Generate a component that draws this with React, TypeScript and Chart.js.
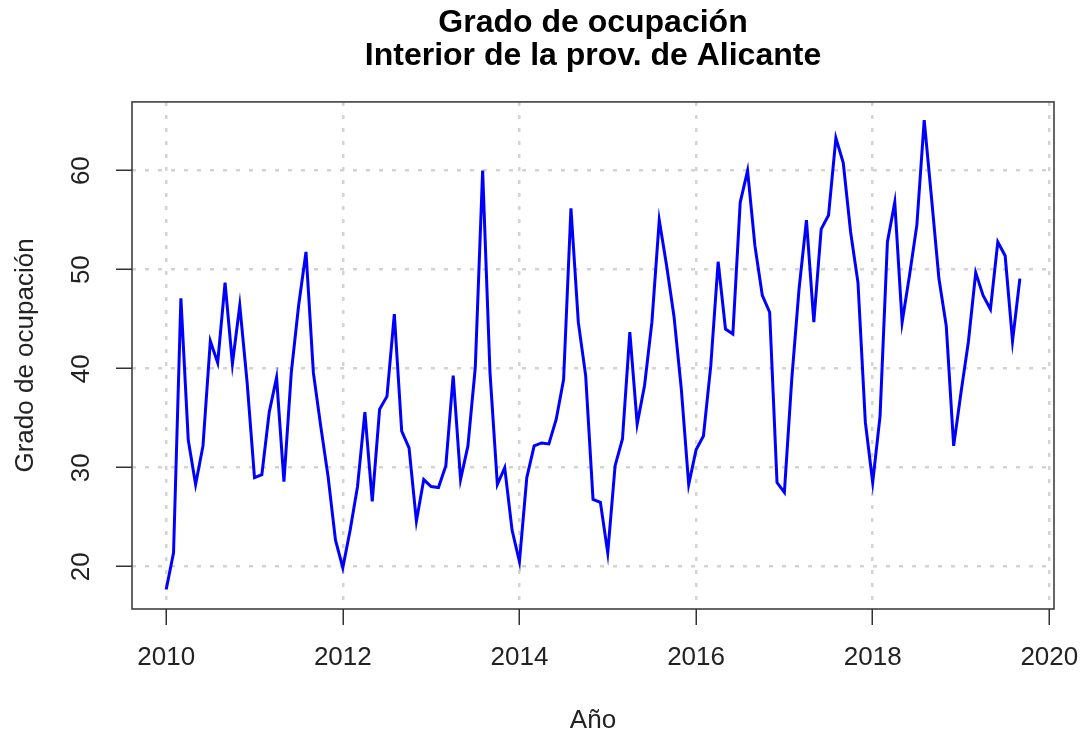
import React, { useEffect, useRef } from 'react';
import { Chart, registerables } from 'chart.js';

Chart.register(...registerables);

const startYear = 2010;
const monthlyValues = [
  17.7, 21.4, 47.1, 32.8, 28.3, 32.2, 42.8, 40.6, 48.7, 40.5, 46.4, 38.6,
  29.0, 29.3, 35.6, 39.1, 28.6, 39.6, 46.4, 51.8, 39.6, 34.2, 29.1, 22.7,
  19.9, 23.7, 28.1, 35.6, 26.6, 35.9, 37.2, 45.5, 33.7, 32.0, 24.6, 28.8,
  28.1, 28.0, 30.2, 39.3, 28.8, 32.2, 40.1, 60.0, 39.6, 28.3, 30.0, 23.7,
  20.5, 29.0, 32.2, 32.5, 32.4, 34.9, 38.9, 56.2, 44.7, 39.3, 26.8, 26.5,
  21.4, 30.2, 32.9, 43.7, 34.4, 38.3, 44.7, 55.0, 50.4, 45.3, 37.9, 28.3,
  31.8, 33.2, 40.3, 50.8, 44.0, 43.5, 56.8, 60.0, 52.4, 47.4, 45.7, 28.5,
  27.5, 38.9, 48.1, 55.0, 44.7, 54.1, 55.5, 63.3, 60.8, 53.8, 48.7, 34.6,
  28.5, 35.2, 52.8, 56.8, 44.7, 49.4, 54.5, 65.1, 57.2, 49.1, 44.3, 32.2,
  37.6, 42.7, 49.7, 47.4, 46.0, 52.8, 51.4, 42.8, 49.1,
];
const timeValues = monthlyValues.map((_, i) => startYear + i / 12);
const xTickValues = [2010, 2012, 2014, 2016, 2018, 2020];
const yTickValues = [20, 30, 40, 50, 60];
const titleLines = ['Grado de ocupación', 'Interior de la prov. de Alicante'];
const xLabel = 'Año';
const yLabel = 'Grado de ocupación';

const boxPlugin = {
  id: 'plotBox',
  afterDraw(chart: any) {
    const { ctx, chartArea: a } = chart;
    ctx.save();
    ctx.strokeStyle = '#333333';
    ctx.lineWidth = 1.5;
    ctx.strokeRect(a.left, a.top, a.right - a.left, a.bottom - a.top);
    ctx.restore();
  },
};

export default function App() {
  const ref = useRef<HTMLCanvasElement | null>(null);

  useEffect(() => {
    if (!ref.current) return;
    Chart.defaults.font.family = '"Liberation Sans", Arial, sans-serif';
    const gridCommon = {
      color: '#d3d3d3',
      lineWidth: 2.5,
      tickColor: '#333333',
      tickLength: 16,
      tickWidth: 1.5,
      tickBorderDash: [],
    };
    const chart = new Chart(ref.current, {
      type: 'line',
      data: {
        datasets: [
          {
            data: timeValues.map((x, i) => ({ x, y: monthlyValues[i] })),
            borderColor: '#0000ff',
            borderWidth: 3,
            pointRadius: 0,
            tension: 0,
            fill: false,
          },
        ],
      },
      plugins: [boxPlugin],
      options: {
        animation: false,
        responsive: false,
        events: [],
        layout: { padding: { left: 0, right: 27, top: 0, bottom: 0 } },
        plugins: {
          legend: { display: false },
          tooltip: { enabled: false },
          title: {
            display: true,
            text: titleLines,
            fullSize: false,
            color: '#000000',
            font: { size: 32, weight: 'bold', lineHeight: 1.03 },
            padding: { top: 6.5, bottom: 29.5 },
          },
        },
        scales: {
          x: {
            type: 'linear',
            min: 2009.613,
            max: 2020.053,
            afterBuildTicks: (s: any) => {
              s.ticks = xTickValues.map((v) => ({ value: v }));
            },
            afterFit: (s: any) => {
              s.height = 127;
              s.paddingLeft = 0;
              s.paddingRight = 0;
            },
            grid: gridCommon,
            border: { display: false, dash: [4, 9] },
            ticks: {
              color: '#222222',
              font: { size: 26 },
              padding: 17,
              maxRotation: 0,
              autoSkip: false,
              callback: (v: any) => String(v),
            },
            title: {
              display: true,
              text: xLabel,
              color: '#222222',
              font: { size: 26 },
              padding: { top: 0, bottom: 0 },
            },
          },
          y: {
            type: 'linear',
            min: 15.73,
            max: 66.94,
            afterBuildTicks: (s: any) => {
              s.ticks = yTickValues.map((v) => ({ value: v }));
            },
            afterFit: (s: any) => {
              s.width = 132;
              s.paddingTop = 0;
              s.paddingBottom = 0;
            },
            grid: gridCommon,
            border: { display: false, dash: [4, 9] },
            ticks: {
              color: '#222222',
              font: { size: 26 },
              padding: 20,
              minRotation: 90,
              maxRotation: 90,
              crossAlign: 'center',
              autoSkip: false,
              callback: (v: any) => String(v),
            },
            title: {
              display: true,
              text: yLabel,
              color: '#222222',
              font: { size: 26 },
              padding: { top: 10, bottom: 0 },
            },
          },
        },
      } as any,
    });
    return () => chart.destroy();
  }, []);

  return (
    <div style={{ position: 'absolute', left: 0, top: 0, width: 1081, height: 736, background: '#ffffff' }}>
      <canvas ref={ref} width={1081} height={736} style={{ width: 1081, height: 736, display: 'block' }} />
    </div>
  );
}
